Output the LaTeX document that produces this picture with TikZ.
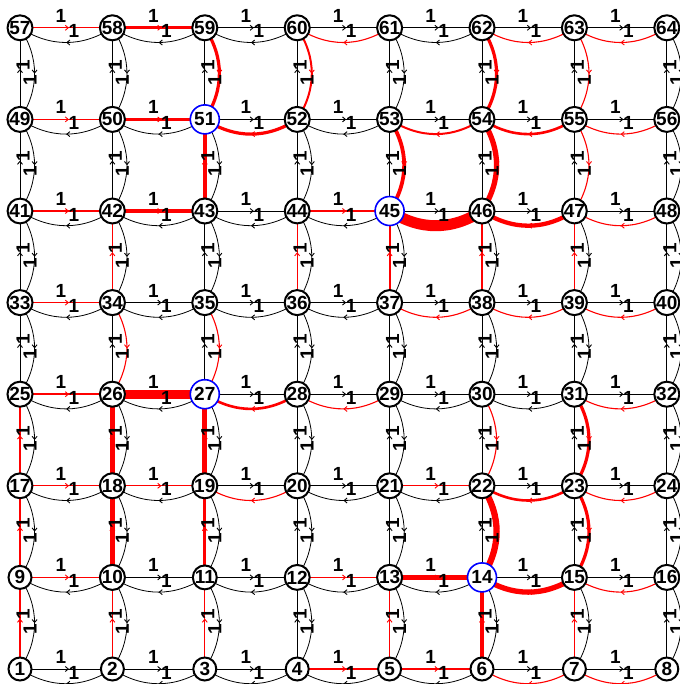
\documentclass[tikz,border=0pt]{standalone}
\usepackage{fontspec}
\setmainfont{Liberation Sans}
\usetikzlibrary{arrows.meta,decorations.markings}
\pgfdeclarelayer{bg}
\pgfsetlayers{bg,main}
\tikzset{
  k/.style={draw=black,line width=0.8pt},
  r1/.style={draw=red,line width=1.1pt},
  r2/.style={draw=red,line width=2pt},
  r25/.style={draw=red,line width=2.6pt},
  r3/.style={draw=red,line width=3.2pt},
  r35/.style={draw=red,line width=3.8pt},
  r4/.style={draw=red,line width=4.3pt},
  r5/.style={draw=red,line width=5.3pt},
  r6/.style={draw=red,line width=6.3pt},
  r9/.style={draw=red,line width=9pt},
  r10/.style={draw=red,line width=11pt},
  ma/.style={postaction={decorate,decoration={markings,mark=at position #1 with {\arrow{Straight Barb[length=3pt,width=5pt,line width=0.9pt]}}}}},
  lab/.style={font=\fontsize{19}{19}\selectfont\bfseries,inner sep=0pt},
  vn/.style={circle,draw=black,fill=white,line width=2pt,minimum size=23pt,inner sep=0pt,font=\fontsize{19}{19}\selectfont\bfseries},
  bn/.style={circle,draw=blue,fill=white,line width=1.6pt,minimum size=29pt,inner sep=0pt,font=\fontsize{19}{19}\selectfont\bfseries}
}
\newcommand\hedge[3]{%
  \pgfmathtruncatemacro\jj{#1+1}%
  \begin{pgfonlayer}{bg}
    \draw[#2,ma=0.53] (n#1.center) -- (n\jj.center);
    \draw[#3,ma=0.5] (n\jj.center) to[bend left=33] (n#1.center);
  \end{pgfonlayer}
  \node[lab] (ha#1) at ([shift={(41,-12)}]n#1.center) {1};
  \node[lab] (hb#1) at ([shift={(54,3.5)}]n#1.center) {1};
}
\newcommand\vedge[3]{%
  \pgfmathtruncatemacro\jj{#1+8}%
  \begin{pgfonlayer}{bg}
    \draw[#2,ma=0.55] (n#1.center) -- (n\jj.center);
    \draw[#3,ma=0.5] (n\jj.center) to[bend left=33] (n#1.center);
  \end{pgfonlayer}
  \node[lab,rotate=90] (va#1) at ([shift={(3,37)}]n\jj.center) {1};
  \node[lab,rotate=90] (vb#1) at ([shift={(10,52)}]n\jj.center) {1};
}
\begin{document}
\begin{tikzpicture}[x=1pt,y=-1pt]
\useasboundingbox (0,0) rectangle (679,684);
\foreach \r in {0,...,7}{
  \foreach \c in {0,...,7}{
    \pgfmathtruncatemacro\nn{8*\r+\c+1}
    \pgfmathsetmacro\xx{20+92.4*\c}
    \pgfmathsetmacro\yy{669-91.6*\r}
    \def\st{vn}
    \ifnum\nn=14 \def\st{bn}\fi
    \ifnum\nn=27 \def\st{bn}\fi
    \ifnum\nn=45 \def\st{bn}\fi
    \ifnum\nn=51 \def\st{bn}\fi
    \node[\st] (n\nn) at (\xx,\yy) {\nn};
  }
}
% horizontal edges
\hedge{57}{r1}{k}\hedge{58}{r3}{k}\hedge{59}{k}{k}\hedge{60}{k}{r1}\hedge{61}{k}{k}\hedge{62}{k}{r1}\hedge{63}{k}{r1}
\hedge{49}{r1}{k}\hedge{50}{r3}{k}\hedge{51}{k}{r3}\hedge{52}{k}{k}\hedge{53}{k}{r2}\hedge{54}{k}{r25}\hedge{55}{k}{r1}
\hedge{41}{r1}{k}\hedge{42}{r3}{k}\hedge{43}{k}{k}\hedge{44}{r2}{k}\hedge{45}{k}{r10}\hedge{46}{k}{r4}\hedge{47}{k}{r1}
\hedge{33}{r1}{k}\hedge{34}{k}{k}\hedge{35}{k}{k}\hedge{36}{k}{k}\hedge{37}{k}{r1}\hedge{38}{k}{r1}\hedge{39}{k}{r1}
\hedge{25}{r2}{k}\hedge{26}{r9}{k}\hedge{27}{k}{r25}\hedge{28}{k}{r1}\hedge{29}{k}{k}\hedge{30}{k}{k}\hedge{31}{k}{r1}
\hedge{17}{r1}{k}\hedge{18}{r1}{k}\hedge{19}{k}{r1}\hedge{20}{k}{k}\hedge{21}{r1}{k}\hedge{22}{k}{r25}\hedge{23}{k}{r1}
\hedge{9}{r1}{k}\hedge{10}{k}{k}\hedge{11}{k}{k}\hedge{12}{r1}{k}\hedge{13}{r4}{k}\hedge{14}{k}{r5}\hedge{15}{k}{r1}
\hedge{1}{k}{k}\hedge{2}{k}{k}\hedge{3}{k}{k}\hedge{4}{r1}{k}\hedge{5}{r1}{k}\hedge{6}{k}{r1}\hedge{7}{k}{r1}
% vertical edges
\vedge{1}{r1}{k}\vedge{9}{r1}{k}\vedge{17}{r1}{k}\vedge{25}{k}{k}\vedge{33}{k}{k}\vedge{41}{k}{k}\vedge{49}{k}{k}
\vedge{2}{r1}{k}\vedge{10}{r5}{k}\vedge{18}{r5}{k}\vedge{26}{k}{r1}\vedge{34}{r1}{k}\vedge{42}{k}{k}\vedge{50}{k}{k}
\vedge{3}{r1}{k}\vedge{11}{r3}{k}\vedge{19}{r5}{k}\vedge{27}{k}{r1}\vedge{35}{k}{k}\vedge{43}{r4}{k}\vedge{51}{k}{r3}
\vedge{4}{k}{k}\vedge{12}{k}{k}\vedge{20}{k}{k}\vedge{28}{k}{k}\vedge{36}{r1}{k}\vedge{44}{k}{k}\vedge{52}{k}{r2}
\vedge{5}{r1}{k}\vedge{13}{k}{k}\vedge{21}{k}{k}\vedge{29}{k}{k}\vedge{37}{r2}{k}\vedge{45}{k}{r35}\vedge{53}{k}{k}
\vedge{6}{r4}{k}\vedge{14}{k}{r6}\vedge{22}{k}{r1}\vedge{30}{k}{k}\vedge{38}{r1}{k}\vedge{46}{k}{r5}\vedge{54}{k}{r3}
\vedge{7}{r1}{k}\vedge{15}{k}{r3}\vedge{23}{k}{r3}\vedge{31}{k}{k}\vedge{39}{r1}{k}\vedge{47}{k}{r1}\vedge{55}{k}{r1}
\vedge{8}{k}{k}\vedge{16}{k}{k}\vedge{24}{k}{k}\vedge{32}{k}{k}\vedge{40}{k}{k}\vedge{48}{k}{k}\vedge{56}{k}{k}
\end{tikzpicture}
\end{document}
